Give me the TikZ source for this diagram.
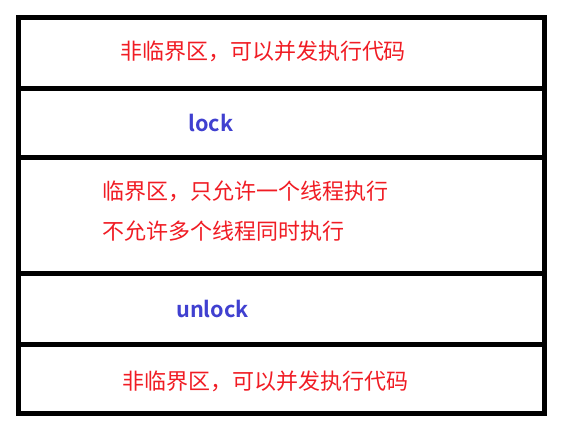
\documentclass[tikz,border=0pt]{standalone}
\usepackage{fontspec}
\newfontfamily\cjk{Noto Sans CJK SC}
\newfontfamily\cjkb{Noto Sans CJK SC Bold}
\definecolor{txtred}{RGB}{240,28,36}
\definecolor{txtblue}{RGB}{64,64,208}
\begin{document}
\begin{tikzpicture}[x=1pt,y=-1pt,
  frame/.style={line width=5pt,draw=black},
  redtxt/.style={text=txtred,font=\cjk\fontsize{22}{26}\selectfont,inner sep=0pt,anchor=base},
  bluetxt/.style={text=txtblue,font=\cjkb\fontsize{21.7}{26}\selectfont,inner sep=0pt,anchor=base west}]
\useasboundingbox (0,0) rectangle (576,439);
\draw[frame] (18.5,17.5) rectangle (544.5,413.5);
\draw[frame] (18.5,88.3) -- (544.5,88.3);
\draw[frame] (18.5,157) -- (544.5,157);
\draw[frame] (18.5,273.5) -- (544.5,273.5);
\draw[frame] (18.5,344.7) -- (544.5,344.7);
\node[redtxt] (t1) at (263,59.5) {非临界区，可以并发执行代码};
\node[bluetxt] (t2) at (188,131.7) {lock};
\node[redtxt,anchor=base west] (t3) at (102,199.5) {临界区，只允许一个线程执行};
\node[redtxt,anchor=base west] (t4) at (102,239.5) {不允许多个线程同时执行};
\node[bluetxt] (t5) at (176,317.3) {unlock};
\node[redtxt] (t6) at (265,389.5) {非临界区，可以并发执行代码};
\end{tikzpicture}
\end{document}
